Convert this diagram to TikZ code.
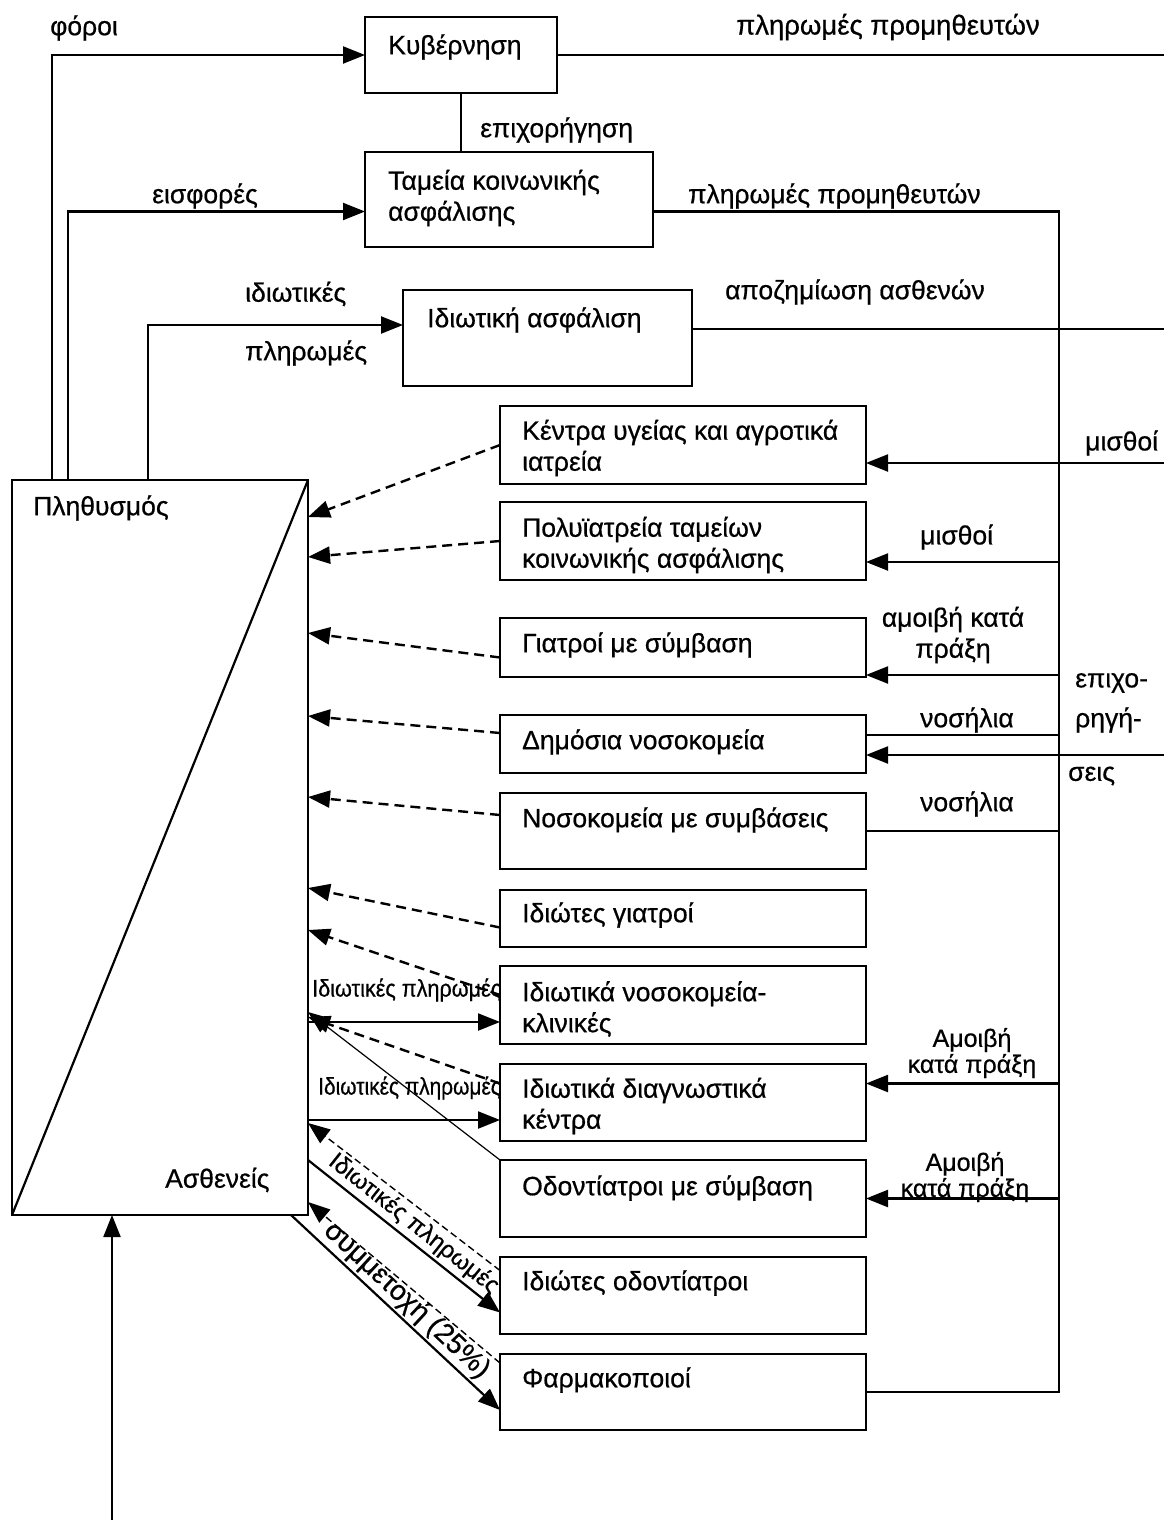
\documentclass[tikz,border=0pt]{standalone}
\usepackage{fontspec}
\setmainfont{Liberation Sans}[FakeBold=0.6]
\usetikzlibrary{arrows.meta,calc}
\newcommand\mybox[5]{\node[bx, minimum width=#4pt, minimum height=#5pt] (#1) at (#2,#3) {};}
\begin{document}
\begin{tikzpicture}[x=1pt,y=-1pt,
  bx/.style={draw, line width=2.6pt, rectangle, inner sep=0pt, outer sep=0pt, anchor=north west},
  ln/.style={line width=2.2pt},
  arr/.style={line width=2.2pt, -{Triangle[length=22pt,width=17pt]}},
  darr/.style={line width=2.4pt, dash pattern=on 10pt off 6pt, -{Triangle[length=22pt,width=17pt]}},
  tdarr/.style={line width=1.4pt, dash pattern=on 7pt off 4pt, -{Triangle[length=22pt,width=17pt]}},
  tarr/.style={line width=1.2pt, -{Triangle[length=22pt,width=17pt]}},
  lbl/.style={inner sep=0pt, font=\fontsize{26.5}{31}\selectfont},
  lw/.style={lbl, anchor=west, align=left},
]
\fill[white] (0,0) rectangle (1164,1520);
\useasboundingbox (0,0) rectangle (1164,1520);

% boxes
\mybox{gov}{365}{17}{192}{76}
\mybox{tam}{365}{152}{288}{95}
\mybox{ida}{403}{290}{289}{96}
\mybox{ken}{500}{406}{366}{78}
\mybox{pol}{500}{502}{366}{78}
\mybox{gia}{500}{618}{366}{59}
\mybox{dim}{500}{715}{366}{58}
\mybox{nos}{500}{793}{366}{76}
\mybox{igi}{500}{890}{366}{57}
\mybox{ink}{500}{966}{366}{78}
\mybox{idk}{500}{1064}{366}{77}
\mybox{ods}{500}{1160}{366}{77}
\mybox{iod}{500}{1257}{366}{77}
\mybox{far}{500}{1354}{366}{76}
\mybox{pop}{12}{480}{296}{735}
\draw[line width=2.2pt] (pop.south west) -- (pop.north east);

% left feeds
\coordinate (pf) at ([xshift=40pt]pop.north west);
\coordinate (pe) at ([xshift=56pt]pop.north west);
\coordinate (pi) at ([xshift=136pt]pop.north west);
\coordinate (te) at ([yshift=-12pt]tam.west);
\coordinate (ie) at ([yshift=13pt]ida.west);
\draw[arr] (pf) |- (gov.west);
\draw[arr] (pe) |- (te);
\draw[arr] (pi) |- (ie);
\draw[ln] (gov.south) -- (gov.south |- tam.north);

% right side
\coordinate (rTop) at (1164,55);
\draw[ln] (gov.east) -- (rTop);
\coordinate (te2) at ([yshift=-12pt]tam.east);
\coordinate (bus1) at (1059,211.5);
\coordinate (bus2) at (1059,1392);
\draw[ln] (te2) -- (bus1) -- (bus2) -- (far.east);
\coordinate (ie2) at ([yshift=9pt]ida.east);
\coordinate (rIda) at (1164,329);
\draw[ln] (ie2) -- (rIda);
\coordinate (kE) at ([yshift=-18pt]ken.east);
\coordinate (rKen) at (1164,463);
\draw[arr] (rKen) -- (kE);
\coordinate (pE) at ([yshift=-21pt]pol.east);
\draw[arr] (bus1 |- pE) -- (pE);
\coordinate (gE) at ([yshift=2pt]gia.south east);
\draw[arr] (bus1 |- gE) -- (gE);
\coordinate (dE1) at ([yshift=9pt]dim.east);
\draw[ln] (bus1 |- dE1) -- (dE1);
\coordinate (dE2) at ([yshift=-11pt]dim.east);
\coordinate (rDim) at (1164,755);
\draw[arr] (rDim) -- (dE2);
\draw[ln] (bus1 |- nos.east) -- (nos.east);
\coordinate (kdE) at ([yshift=19pt]idk.east);
\draw[arr] (bus1 |- kdE) -- (kdE);
\draw[arr] (bus1 |- ods.east) -- (ods.east);

% dashed to population
\draw[darr] (ken.west) -- ([yshift=-37pt]pop.north east);
\draw[darr] (pol.west) -- ([yshift=-77pt]pop.north east);
\draw[darr] ([yshift=-10pt]gia.west) -- ([yshift=-153pt]pop.north east);
\draw[darr] ([yshift=11pt]dim.west) -- ([yshift=-236pt]pop.north east);
\draw[darr] ([yshift=16pt]nos.west) -- ([yshift=-317pt]pop.north east);
\draw[darr] ([yshift=-9pt]igi.west) -- ([yshift=-408pt]pop.north east);
\draw[darr] ([yshift=10pt]ink.west) -- ([yshift=-450pt]pop.north east);
\draw[darr] ([yshift=19pt]idk.west) -- ([yshift=-537pt]pop.north east);
\draw[tarr] (ods.north west) -- ([yshift=-532pt]pop.north east);
\draw[tdarr] ([yshift=25pt]iod.west) -- ([yshift=-643pt]pop.north east);
\draw[tdarr] ([yshift=29pt]far.west) -- ([yshift=-722pt]pop.north east);

% solid from population
\coordinate (s1) at ([yshift=-542pt]pop.north east);
\draw[arr] (s1) -- (ink.west |- s1);
\coordinate (s2) at ([yshift=-640pt]pop.north east);
\draw[arr] (s2) -- (idk.west |- s2);
\draw[arr] ([yshift=-680pt]pop.north east) -- node[sloped, above=3pt, lbl, font=\fontsize{24}{28}\selectfont] (l-ipr) {Ιδιωτικές πληρωμές} ([yshift=-17pt]iod.west);
\draw[arr] ([xshift=-17pt]pop.south east) -- node[sloped, above=2pt, lbl, font=\fontsize{28}{30}\selectfont] (l-sym) {συμμετοχή (25\%)} ([yshift=-18pt]far.west);
\coordinate (bot) at (112,1520);
\draw[arr] (bot) -- (bot |- pop.south);

% labels
\node[lw] (l-foroi) at (50,28) {φόροι};
\node[lw] (l-gov) at (388,47) {Κυβέρνηση};
\node[lbl, font=\fontsize{27.5}{31}\selectfont] (l-pp1) at (888,27) {πληρωμές προμηθευτών};
\node[lw] (l-epix) at (480,130) {επιχορήγηση};
\node[lw] (l-tam) at (388,198) {Ταμεία κοινωνικής\\ασφάλισης};
\node[lbl] (l-eisf) at (205,196) {εισφορές};
\node[lw] (l-pp2) at (688,196) {πληρωμές προμηθευτών};
\node[lw] (l-idiot) at (245,294) {ιδιωτικές};
\node[lw] (l-plir) at (245,353) {πληρωμές};
\node[lw] (l-ida) at (427,320) {Ιδιωτική ασφάλιση};
\node[lw] (l-apoz) at (725,292) {αποζημίωση ασθενών};
\node[lw] (l-mis1) at (1085,443) {μισθοί};
\node[lw] (l-ken) at (522,448) {Κέντρα υγείας και αγροτικά\\ιατρεία};
\node[lw] (l-pl) at (33,508) {Πληθυσμός};
\node[lw] (l-pol) at (522,545) {Πολυϊατρεία ταμείων\\κοινωνικής ασφάλισης};
\node[lw] (l-mis2) at (920,537) {μισθοί};
\node[lw] (l-gia) at (522,645) {Γιατροί με σύμβαση};
\node[lbl, align=center] (l-amo1) at (953,635) {αμοιβή κατά\\πράξη};
\node[lw] (l-epx1) at (1075,683) {επιχο-};
\node[lw] (l-epx2) at (1075,720) {ρηγή-};
\node[lw] (l-epx3) at (1068,776) {σεις};
\node[lw] (l-nos1) at (920,720) {νοσήλια};
\node[lw] (l-dim) at (522,742) {Δημόσια νοσοκομεία};
\node[lw] (l-nos2) at (920,804) {νοσήλια};
\node[lw] (l-nos) at (522,820) {Νοσοκομεία με συμβάσεις};
\node[lw] (l-igi) at (522,915) {Ιδιώτες γιατροί};
\node[lw] (l-ink) at (522,1009) {Ιδιωτικά νοσοκομεία-\\κλινικές};
\node[lbl, align=center, font=\fontsize{25}{26}\selectfont] (l-amo2) at (972,1053) {Αμοιβή\\κατά πράξη};
\node[lw] (l-idk) at (522,1106) {Ιδιωτικά διαγνωστικά\\κέντρα};
\node[lw] (l-ods) at (522,1188) {Οδοντίατροι με σύμβαση};
\node[lbl, align=center, font=\fontsize{25}{26}\selectfont] (l-amo3) at (965,1177) {Αμοιβή\\κατά πράξη};
\node[lw] (l-asth) at (165,1180) {Ασθενείς};
\node[lw] (l-iod) at (522,1283) {Ιδιώτες οδοντίατροι};
\node[lw] (l-far) at (522,1380) {Φαρμακοποιοί};
\node[lw, font=\fontsize{24}{28}\selectfont] (l-ip1) at (312,990) {\scalebox{0.9}[1]{Ιδιωτικές πληρωμές}};
\node[lw, font=\fontsize{24}{28}\selectfont] (l-ip2) at (318,1088) {\scalebox{0.87}[1]{Ιδιωτικές πληρωμές}};
\end{tikzpicture}
\end{document}
